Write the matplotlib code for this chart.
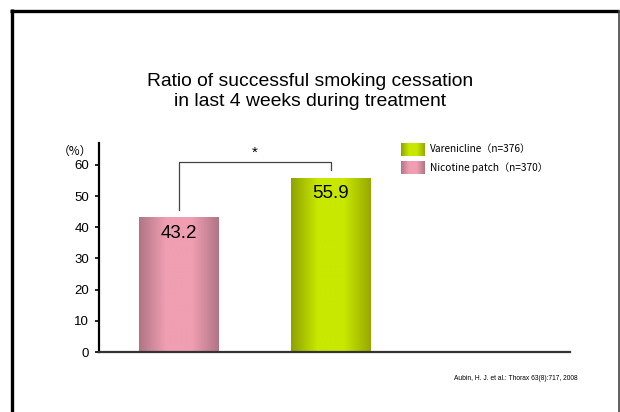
import numpy as np
import matplotlib.pyplot as plt
from matplotlib.colors import LinearSegmentedColormap
from matplotlib.lines import Line2D

plt.rcParams['font.family'] = ['Liberation Sans', 'DejaVu Sans']

# data
groups = ['Nicotine patch', 'Varenicline']
values = [43.2, 55.9]
legend_labels = ['Varenicline（n=376）', 'Nicotine patch（n=370）']
yticks = [0, 10, 20, 30, 40, 50, 60]

pink = ['#b07585', '#f09eb2', '#f09eb2', '#b07585']
green = ['#8ea200', '#c8e800', '#c8e800', '#96a800']
cmaps = [LinearSegmentedColormap.from_list('p', pink),
         LinearSegmentedColormap.from_list('g', green)]

fig = plt.figure(figsize=(6.2, 4.12), dpi=100)
ax = fig.add_axes([0.1597, 0.1456, 0.759, 0.5074])

x = np.arange(len(values))
width = 0.526
bars = ax.bar(x, values, width=width, color='none', edgecolor='none')

grad = np.linspace(0, 1, 256).reshape(1, -1)
for b, cm, v in zip(bars, cmaps, values):
    x0, w, h = b.get_x(), b.get_width(), b.get_height()
    im = ax.imshow(grad, cmap=cm, aspect='auto', extent=[x0, x0 + w, 0, h],
                   zorder=2)
    im.set_clip_path(b)
    ax.text(x0 + w / 2, h - 2.4, f'{v}', ha='center', va='top',
            fontsize=13.5, zorder=3)

# significance bracket
ax.plot([0, 0, 1, 1], [45.5, 60.9, 60.9, 58.3], color='#444444', lw=0.9,
        zorder=3)
ax.text(0.5, 61.6, '*', ha='center', va='bottom', fontsize=11)

ax.set_xlim(-0.526, 2.572)
ax.set_ylim(0, 67)
ax.set_yticks(yticks)
ax.set_xticks([])
ax.tick_params(axis='y', direction='out', length=3, width=1.2, labelsize=9.5,
               pad=4)
for s in ['top', 'right']:
    ax.spines[s].set_visible(False)
ax.spines['left'].set_linewidth(1.6)
ax.spines['bottom'].set_linewidth(1.6)
ax.spines['bottom'].set_color('#333333')
fig.text(75 / 620, 1 - 151 / 412, '（%）', fontsize=8.5,
         ha='center', va='center', family=['Noto Sans CJK JP', 'DejaVu Sans'])

# legend
for cm, lab, yy in zip([cmaps[1], cmaps[0]], legend_labels, [143, 161]):
    lax = fig.add_axes([401 / 620, 1 - (yy + 13) / 412, 24 / 620, 13 / 412])
    lax.imshow(grad, cmap=cm, aspect='auto')
    lax.axis('off')
    fig.text(430 / 620, 1 - (yy + 6.5) / 412, lab, fontsize=7.3, va='center',
             ha='left', family=['Noto Sans CJK JP', 'DejaVu Sans'])

fig.text(0.5, 1 - 81 / 412, 'Ratio of successful smoking cessation',
         ha='center', va='center', fontsize=13.9)
fig.text(0.5, 1 - 101 / 412, 'in last 4 weeks during treatment',
         ha='center', va='center', fontsize=13.9)

fig.text(578 / 620, 1 - 378 / 412,
         'Aubin, H. J. et al.: Thorax 63(8):717, 2008',
         ha='right', va='center', fontsize=4.8)

# slide frame
kw = dict(transform=fig.transFigure, solid_capstyle='butt')
fig.add_artist(Line2D([12 / 620, 12 / 620], [0, 1 - 9.3 / 412],
                      color='black', lw=2.4, **kw))
fig.add_artist(Line2D([10.3 / 620, 619 / 620], [1 - 10.5 / 412, 1 - 10.5 / 412],
                      color='black', lw=2.4, **kw))
fig.add_artist(Line2D([619 / 620, 619 / 620], [0, 1 - 10 / 412],
                      color='#444444', lw=1.2, **kw))

fig.savefig('out.png', dpi=100)
